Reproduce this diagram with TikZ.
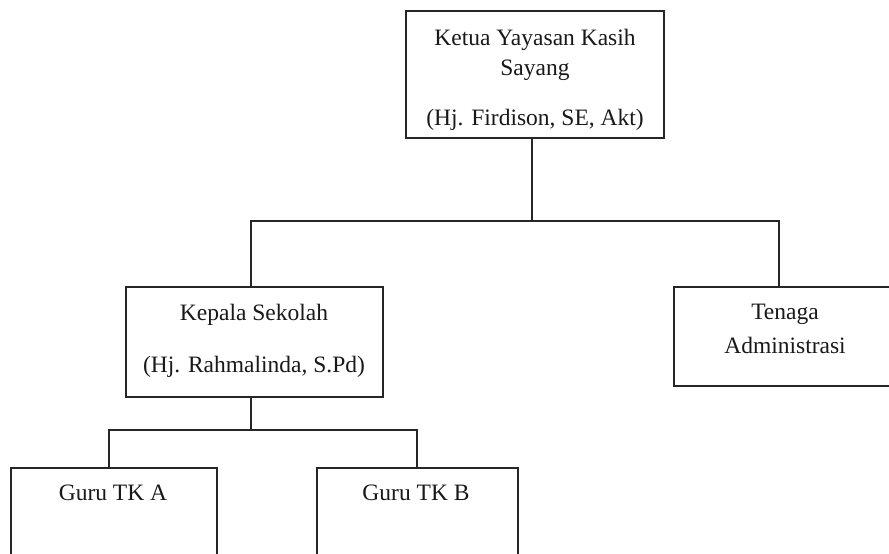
\documentclass[tikz,border=0pt]{standalone}
\usepackage{fontspec}
\setmainfont{Liberation Serif}
\begin{document}
\begin{tikzpicture}[x=1pt,y=-1pt,
  orgbox/.style={draw=black!85,line width=1.4pt,rectangle,inner sep=0pt,outer sep=0pt},
  conn/.style={draw=black!85,line width=1.4pt},
  lbl/.style={anchor=base,inner sep=0pt,font=\fontsize{23.5}{28}\selectfont,text=black!90}]
\useasboundingbox (0,0) rectangle (889,554);
\fill[white] (0,0) rectangle (889,554);
% boxes
\node[orgbox,minimum width=258,minimum height=127] (top) at (535,74.5) {};
\node[orgbox,minimum width=257,minimum height=110] (kepala) at (254.5,342) {};
\node[orgbox,minimum width=236,minimum height=99] (tenaga) at (792,336.5) {};
\node[orgbox,minimum width=206,minimum height=112] (guruA) at (114,524) {};
\node[orgbox,minimum width=201,minimum height=112] (guruB) at (417.5,524) {};
% texts
\node[lbl] (t1) at (535,45) {Ketua Yayasan Kasih};
\node[lbl] (t2) at (535,75) {Sayang};
\node[lbl] (t3) at (535,125) {(Hj. Firdison, SE, Akt)};
\node[lbl] (k1) at (254,320) {Kepala Sekolah};
\node[lbl] (k2) at (254,372) {(Hj. Rahmalinda, S.Pd)};
\node[lbl] (a1) at (785,319) {Tenaga};
\node[lbl] (a2) at (785,353) {Administrasi};
\node[lbl] (g1) at (113,500) {Guru TK A};
\node[lbl] (g2) at (416,500) {Guru TK B};
% junctions
\coordinate (j1) at (532,221);
\coordinate (jL) at (251,221);
\coordinate (jR) at (779,221);
\coordinate (j2) at (251,430);
\coordinate (jA) at (109,430);
\coordinate (jB) at (417,430);
% connectors
\draw[conn] (top.south -| j1) -- (j1);
\draw[conn] (kepala.north -| jL) -- (jL) -- (jR) -- (tenaga.north -| jR);
\draw[conn] (kepala.south -| j2) -- (j2);
\draw[conn] (guruA.north -| jA) -- (jA) -- (jB) -- (guruB.north -| jB);
\end{tikzpicture}
\end{document}
